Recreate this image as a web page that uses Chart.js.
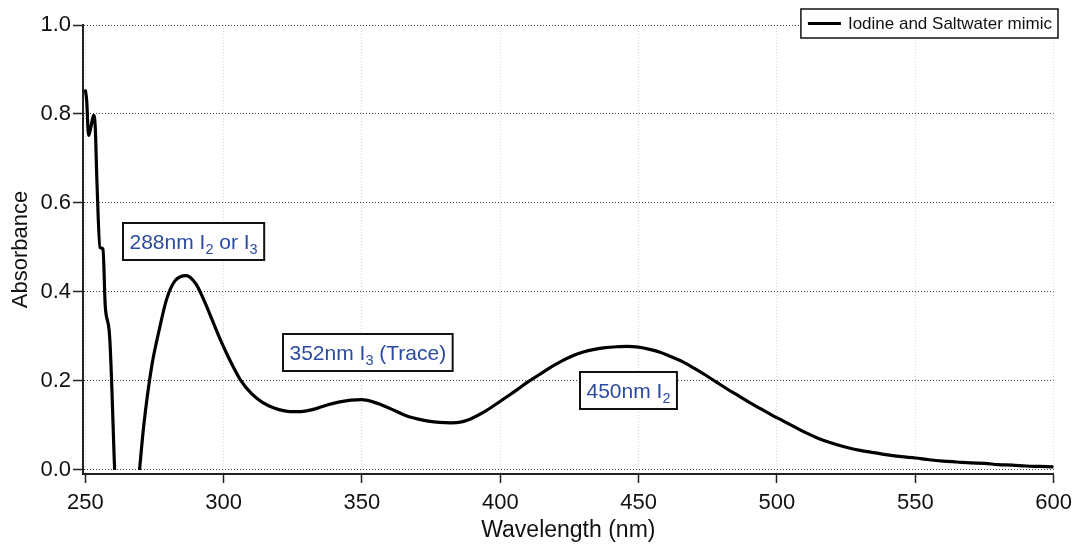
<!DOCTYPE html>
<html>
<head>
<meta charset="utf-8">
<script src="https://cdn.jsdelivr.net/npm/chart.js@4/dist/chart.umd.min.js"></script>
<style>
  html, body { margin: 0; padding: 0; background: #fff; }
  #wrap { width: 1079px; height: 545px; position: relative; }
</style>
</head>
<body>
<div id="wrap"><canvas id="c" width="1079" height="545"></canvas></div>
<script>
// ---- Data ----
const wavelengths = [
  250, 250.5, 251.2, 252, 253, 253.6, 254.2, 255.3, 256.4, 257.2, 258.8, 260.6,
  265,
  269.6, 271.1, 274.0, 276.5, 279.4, 282.4, 286.5, 290, 293, 296, 299, 302, 306,
  310, 314, 318, 322, 326, 330, 334, 338, 342, 346, 350, 354, 358, 362, 366, 370,
  374, 378, 382, 386, 390, 394, 398, 402, 406, 410, 414, 418, 422, 426, 430, 434,
  438, 442, 446, 450, 454, 458, 462, 466, 470, 474, 478, 482, 486, 490, 494, 498,
  502, 506, 510, 515, 520, 525, 530, 535, 540, 545, 550, 555, 560, 565, 570, 575,
  580, 585, 590, 595, 600
];
const absorbance = [
  0.855, 0.83, 0.752, 0.77, 0.797, 0.77, 0.65, 0.50, 0.497, 0.37, 0.30, 0.0,
  null,
  0.0, 0.098, 0.233, 0.309, 0.384, 0.425, 0.437, 0.418, 0.38, 0.335, 0.29, 0.25, 0.203,
  0.172, 0.152, 0.14, 0.133, 0.131, 0.133, 0.139, 0.147, 0.153, 0.157, 0.158, 0.153, 0.144, 0.133, 0.122, 0.115,
  0.11, 0.107, 0.106, 0.108, 0.117, 0.13, 0.146, 0.163, 0.18, 0.198, 0.214, 0.23, 0.244, 0.256, 0.265, 0.271,
  0.275, 0.277, 0.278, 0.276, 0.271, 0.264, 0.254, 0.243, 0.229, 0.214, 0.198, 0.182, 0.167, 0.152, 0.138, 0.124,
  0.111, 0.098, 0.085, 0.071, 0.06, 0.051, 0.044, 0.039, 0.034, 0.03, 0.027, 0.023, 0.02, 0.018, 0.016, 0.015,
  0.012, 0.011, 0.009, 0.008, 0.007
];
const seriesName = "Iodine and Saltwater mimic";
const xTickValues = [250, 300, 350, 400, 450, 500, 550, 600];
const yTickValues = [0.0, 0.2, 0.4, 0.6, 0.8, 1.0];
const xTitle = "Wavelength (nm)";
const yTitle = "Absorbance";
// annotation labels: segments [text, isSubscript]
const annotationTexts = [
  [["288nm I", 0], ["2", 1], [" or I", 0], ["3", 1]],
  [["352nm I", 0], ["3", 1], [" (Trace)", 0]],
  [["450nm I", 0], ["2", 1]]
];
const annotationX = [289.0, 352.3, 446.3];
const annotationY = [0.513, 0.263, 0.179];

// ---- Rendering ----
const FONT = "'Liberation Sans', Arial, sans-serif";

const annotationPlugin = {
  id: 'boxAnnotations',
  afterDatasetsDraw(chart) {
    const ctx = chart.ctx;
    const xs = chart.scales.x, ys = chart.scales.y;
    const fs = 21, subFs = 14.5;
    annotationTexts.forEach((segs, i) => {
      let w = 0;
      const widths = segs.map(([t, sub]) => {
        ctx.font = (sub ? subFs : fs) + 'px ' + FONT;
        const m = ctx.measureText(t).width;
        w += m;
        return m;
      });
      const cx = xs.getPixelForValue(annotationX[i]);
      const cy = ys.getPixelForValue(annotationY[i]);
      const padX = 6.5, h = 37;
      const bw = w + 2 * padX;
      const left = Math.round(cx - bw / 2), top = Math.round(cy - h / 2);
      ctx.save();
      ctx.fillStyle = '#fff';
      ctx.fillRect(left, top, bw, h);
      ctx.lineWidth = 2;
      ctx.strokeStyle = '#111';
      ctx.strokeRect(left, top, bw, h);
      ctx.fillStyle = '#2B4AA3';
      ctx.textBaseline = 'alphabetic';
      ctx.textAlign = 'left';
      let x = left + padX;
      const base = top + h / 2 + 7.5;
      segs.forEach(([t, sub], k) => {
        ctx.font = (sub ? subFs : fs) + 'px ' + FONT;
        ctx.fillText(t, x, sub ? base + 5 : base);
        x += widths[k];
      });
      ctx.restore();
    });
  },
  afterDraw(chart) {
    // legend box, top right
    const ctx = chart.ctx;
    const right = chart.width - 21, top = 9, h = 29;
    ctx.save();
    ctx.font = '17px ' + FONT;
    const tw = ctx.measureText(seriesName).width;
    const sampleLen = 33;
    const bw = 7 + sampleLen + 7 + tw + 6;
    const left = right - bw;
    ctx.fillStyle = '#fff';
    ctx.fillRect(left, top, bw, h);
    ctx.lineWidth = 1.5;
    ctx.strokeStyle = '#111';
    ctx.strokeRect(left, top, bw, h);
    ctx.beginPath();
    ctx.lineWidth = 3;
    ctx.strokeStyle = '#000';
    ctx.moveTo(left + 7, top + h / 2);
    ctx.lineTo(left + 7 + sampleLen, top + h / 2);
    ctx.stroke();
    ctx.fillStyle = '#111';
    ctx.textBaseline = 'middle';
    ctx.fillText(seriesName, left + 7 + sampleLen + 7, top + h / 2 + 1);
    ctx.restore();
  }
};

const points = wavelengths.map((w, i) => ({ x: w, y: absorbance[i] }));

new Chart(document.getElementById('c'), {
  type: 'scatter',
  data: {
    datasets: [{
      label: seriesName,
      data: points,
      showLine: true,
      spanGaps: false,
      borderColor: '#000',
      backgroundColor: '#000',
      borderWidth: 3.2,
      pointRadius: 0,
      pointHoverRadius: 0,
      cubicInterpolationMode: 'monotone',
      borderJoinStyle: 'round',
      borderCapStyle: 'butt'
    }]
  },
  plugins: [annotationPlugin],
  options: {
    responsive: false,
    animation: false,
    devicePixelRatio: 1,
    layout: { padding: { left: 0, right: 22, top: 25, bottom: 0 } },
    plugins: {
      legend: { display: false },
      tooltip: { enabled: false }
    },
    scales: {
      x: {
        type: 'linear',
        min: 249.17,
        max: 600,
        afterFit(s) { s.height = 71; },
        afterBuildTicks(s) { s.ticks = xTickValues.map(v => ({ value: v })); },
        ticks: {
          color: '#111',
          font: { family: FONT, size: 22 },
          padding: 7,
          maxRotation: 0,
          autoSkip: false,
          callback: v => String(v)
        },
        grid: {
          color: 'rgba(0,0,0,0.16)',
          lineWidth: 1,
          drawTicks: true,
          tickLength: 9,
          tickColor: '#222',
          tickWidth: 1.5
        },
        border: { display: true, color: '#222', width: 2, dash: [1, 2] },
        title: {
          display: true,
          text: xTitle,
          color: '#111',
          font: { family: FONT, size: 23 },
          padding: { top: 0, bottom: 1 }
        }
      },
      y: {
        type: 'linear',
        min: -0.009,
        max: 1.0,
        afterFit(s) { s.width = 83; },
        afterBuildTicks(s) { s.ticks = yTickValues.map(v => ({ value: v })); },
        ticks: {
          color: '#111',
          font: { family: FONT, size: 22 },
          padding: 2,
          autoSkip: false,
          callback: v => Number(v).toFixed(1)
        },
        grid: {
          color: 'rgba(0,0,0,0.75)',
          lineWidth: 1,
          drawTicks: true,
          tickLength: 10,
          tickColor: '#222',
          tickWidth: 1.5
        },
        border: { display: true, color: '#222', width: 2, dash: [1, 2] },
        title: {
          display: true,
          text: yTitle,
          color: '#111',
          font: { family: FONT, size: 22 },
          padding: { top: 8, bottom: 0 }
        }
      }
    }
  }
});
</script>
</body>
</html>
